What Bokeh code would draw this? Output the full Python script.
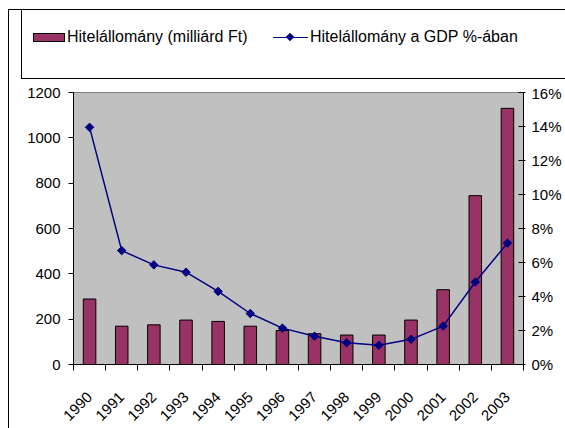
import numpy as np
from bokeh.plotting import figure
from bokeh.layouts import column
from bokeh.models import (Range1d, LinearAxis, FixedTicker, PrintfTickFormatter,
                          ColumnDataSource, Div)
from bokeh.embed import file_html
from bokeh.resources import INLINE

years = ["1990", "1991", "1992", "1993", "1994", "1995", "1996",
         "1997", "1998", "1999", "2000", "2001", "2002", "2003"]
loans = [289, 169, 175, 196, 190, 169, 150, 136, 130, 130, 196, 330, 745, 1130]
gdp_pct = [13.95, 6.70, 5.86, 5.43, 4.30, 3.00, 2.14, 1.66, 1.28, 1.13, 1.48, 2.26, 4.85, 7.14]
left_ticks = [0, 200, 400, 600, 800, 1000, 1200]
right_ticks = [0, 2, 4, 6, 8, 10, 12, 14, 16]
bar_label = "Hitelállomány (milliárd Ft)"
line_label = "Hitelállomány a GDP %-ában"

FONT = "Liberation Sans"
FS = "15px"
BAR_C = "#993366"
LINE_C = "#000080"

n = len(years)
xc = [i + 0.5 for i in range(n)]
src = ColumnDataSource(dict(x=xc, loans=loans, pct=gdp_pct))

# ---------------- legend strip (top) ----------------
legend_html = f"""
<div style="position:relative;width:565px;height:84px;overflow:hidden;background:white;
            font-family:'{FONT}';font-size:16px;color:black;white-space:nowrap;">
  <div style="position:absolute;left:8px;top:9px;width:700px;height:200px;
              border-left:1px solid black;border-top:1px solid black;"></div>
  <div style="position:absolute;left:21px;top:9px;width:700px;height:70px;box-sizing:border-box;
              border:1px solid black;background:white;"></div>
  <div style="position:absolute;left:33px;top:33px;width:32px;height:9px;box-sizing:border-box;
              border:1px solid black;background:{BAR_C};"></div>
  <div style="position:absolute;left:67px;top:28px;line-height:18px;">{bar_label}</div>
  <div style="position:absolute;left:273px;top:37px;width:35px;height:0;
              border-top:1.5px solid {LINE_C};"></div>
  <div style="position:absolute;left:287px;top:34px;width:6px;height:6px;
              background:{LINE_C};transform:rotate(45deg);"></div>
  <div style="position:absolute;left:310px;top:28px;line-height:18px;">{line_label}</div>
</div>
"""
top = Div(text=legend_html, width=565, height=84, margin=0)

# ---------------- main chart ----------------
p = figure(width=556, height=344, output_backend="svg", toolbar_location=None,
           x_range=Range1d(0, n), y_range=Range1d(0, 1200),
           min_border_left=64, min_border_right=42, min_border_top=8,
           min_border_bottom=62)
p.margin = (0, 0, 0, 8)
p.styles = {"border-left": "1px solid black"}
p.extra_y_ranges = {"pct": Range1d(0, 16)}
p.background_fill_color = "#C0C0C0"
p.outline_line_color = "#808080"
p.grid.visible = False

p.vbar(x="x", top="loans", width=0.39, source=src,
       fill_color=BAR_C, line_color="black", line_width=1)
p.line(x="x", y="pct", source=src, y_range_name="pct",
       line_color=LINE_C, line_width=1.5)
p.scatter(x="x", y="pct", source=src, y_range_name="pct", marker="square",
          angle=np.pi / 4, size=6, fill_color=LINE_C, line_color=LINE_C)

xa = p.xaxis[0]
xa.ticker = FixedTicker(ticks=xc, minor_ticks=list(range(n + 1)))
xa.major_label_overrides = {v: y for v, y in zip(xc, years)}
xa.major_tick_out = 0
xa.major_tick_in = 0
xa.minor_tick_out = 6
xa.minor_tick_in = 0
xa.minor_tick_line_color = "black"
xa.major_label_orientation = np.pi / 4
xa.major_label_standoff = 24

ya = p.yaxis[0]
ya.ticker = FixedTicker(ticks=left_ticks)
ya.major_tick_out = 5
ya.major_tick_in = 0
ya.minor_tick_out = 0
ya.minor_tick_line_color = None
ya.major_label_standoff = 8

ra = LinearAxis(y_range_name="pct", ticker=FixedTicker(ticks=right_ticks),
                formatter=PrintfTickFormatter(format="%d%%"))
ra.major_tick_out = 2
ra.major_tick_in = 5
ra.minor_tick_out = 0
ra.minor_tick_line_color = None
ra.major_label_standoff = 6
p.add_layout(ra, "right")

for ax in [xa, ya, ra]:
    ax.major_label_text_font = FONT
    ax.major_label_text_font_size = FS
    ax.major_label_text_color = "black"
    ax.axis_line_color = "black"
    ax.major_tick_line_color = "black"

layout = column(top, p, spacing=0)
open("out.html", "w").write(file_html(layout, INLINE))
